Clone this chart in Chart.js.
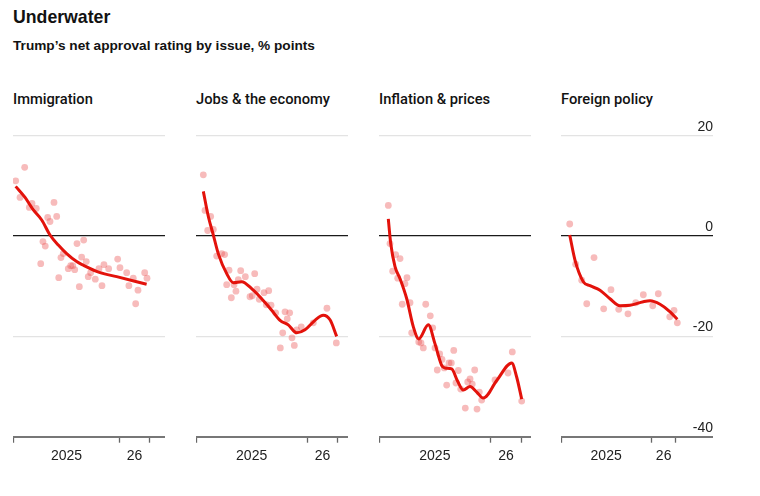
<!DOCTYPE html>
<html>
<head>
<meta charset="utf-8">
<script src="https://cdn.jsdelivr.net/npm/chart.js@4.4.1/dist/chart.umd.min.js"></script>
<style>
  body { margin: 0; background: #fff; width: 760px; height: 496px; position: relative; overflow: hidden;
         font-family: "Liberation Sans", Arial, sans-serif; color: #121212; }
  .t { position: absolute; white-space: nowrap; line-height: 1; }
  .panel { position: absolute; top: 110px; width: 152px; height: 360px; }
</style>
</head>
<body>
<div class="t" style="left:13px;top:9px;font-size:17.7px;font-weight:bold">Underwater</div>
<div class="t" style="left:13px;top:39px;font-size:13.65px;font-weight:bold">Trump’s net approval rating by issue, % points</div>
<div class="t" style="left:13px;top:92px;font-size:14.7px;font-family:Roboto;font-weight:500">Immigration</div>
<div class="t" style="left:196px;top:92px;font-size:14.7px;font-family:Roboto;font-weight:500">Jobs &amp; the economy</div>
<div class="t" style="left:379px;top:92px;font-size:14.7px;font-family:Roboto;font-weight:500">Inflation &amp; prices</div>
<div class="t" style="left:561px;top:92px;font-size:14.7px;font-family:Roboto;font-weight:500">Foreign policy</div>

<div class="panel" style="left:13px"><canvas id="immigration"></canvas></div>
<div class="panel" style="left:196px"><canvas id="jobs"></canvas></div>
<div class="panel" style="left:379px"><canvas id="inflation"></canvas></div>
<div class="panel" style="left:561px"><canvas id="foreign"></canvas></div>

<script>
// x values are months since Jan 1st 2025
const xTicks = [0, 6, 12, 13.64, 15.28];
const xTickLabels = { 6: '2025', 13.64: '26' };
const yTicks = [-40, -20, 0, 20];

// Immigration
const immigrationMonths = [0.3, 1.31, 0.79, 1.83, 2.13, 2.61, 3.89, 4.15, 4.6, 4.9, 3.36, 3.62, 3.11, 5.13, 5.38, 5.64,
  6.2, 6.47, 6.7, 6.92, 7.18, 7.44, 7.7, 7.93, 8.22, 8.44, 8.71, 9.23, 9.64, 9.98, 10.2, 10.73, 11.74, 12.0,
  12.75, 13.0, 13.49, 13.76, 14.02, 14.77, 15.03];
const immigrationPolls = [11, 13.7, 7.7, 5.7, 6.5, 5.5, 3.7, 2.9, 6.7, 3.9, -1.1, -2, -5.5, -8.3, -4.3, -3.5,
  -6.5, -5.9, -5.9, -6.7, -1.5, -10.1, -4.2, -0.8, -5.1, -8.1, -7.3, -8.6, -6.5, -9.9, -5.7, -6.5, -4.6, -6.3,
  -7.3, -9.9, -8.4, -13.5, -10.8, -7.3, -8.4];
const immigrationTrendMonths = [0.3, 1.35, 2.28, 3.22, 4.15, 5.08, 6.02, 7.14, 7.88, 9.76, 11.63, 14.99];
const immigrationTrend = [9.9, 7.7, 5.2, 3.2, 0.2, -1.8, -3.5, -5.1, -5.8, -7.3, -8.1, -9.6];

// Jobs & the economy
const jobsMonths = [0.79, 0.97, 1.58, 1.26, 1.87, 2.23, 2.77, 3.09, 3.56, 3.31, 3.81, 4.1, 4.31, 4.56, 4.82, 5.32,
  5.82, 6.07, 6.33, 6.58, 6.82, 7.33, 7.58, 7.84, 8.09, 8.59, 9.09, 9.35, 9.6, 9.84, 10.1, 10.35, 10.6, 10.86,
  11.35, 12.65, 14.12, 15.13];
const jobsPolls = [12.2, 5.1, 3.9, 1.1, 1.3, -4, -3.5, -3.7, -6.8, -9.7, -12.3, -9.7, -11, -8.7, -6.9, -8.1,
  -12.1, -11.9, -7.5, -10.6, -12.6, -11.3, -13.7, -10.9, -13.8, -15.3, -22.3, -19.3, -15.1, -16.5, -15.3, -20.3,
  -21.8, -18.7, -18.1, -17.3, -14.4, -21.3];
const jobsTrendMonths = [0.79, 1.33, 1.87, 2.4, 3.31, 4.02, 4.93, 6.0, 7.08, 8.16, 9.06, 9.95, 10.86, 11.75,
  12.83, 13.72, 14.45, 15.17];
const jobsTrend = [8.9, 3.9, 0.2, -3.5, -7.5, -9.3, -9.1, -10.5, -12.5, -14.8, -16.8, -17.7, -19.3, -18.7,
  -16.8, -15.8, -16.7, -20];

// Inflation & prices
const inflationMonths = [1.0, 1.18, 1.79, 2.26, 1.47, 2.01, 3.01, 2.79, 2.5, 3.33, 5.02, 5.51, 5.77, 3.51, 4.27,
  4.51, 4.76, 6.02, 6.52, 6.77, 6.26, 7.02, 7.52, 7.77, 8.03, 8.27, 7.27, 8.52, 8.78, 9.27, 9.53, 9.78, 10.02,
  10.28, 10.53, 10.78, 11.03, 12.46, 13.86, 14.32, 15.33];
const inflationPolls = [6.1, -1.5, -3.7, -4.5, -7, -8.4, -8.3, -9.5, -13.6, -13.3, -13.6, -15.9, -18.3, -19.3,
  -21.1, -21.3, -22.3, -22.3, -23.5, -24.6, -26.7, -26.3, -25.3, -25.3, -22.8, -29.3, -29.7, -26.8, -30.5,
  -34.3, -29.1, -28.5, -29.5, -26.7, -34.5, -31.1, -32.7, -28.7, -27.3, -23.1, -32.9];
const inflationTrendMonths = [1.0, 1.26, 1.72, 2.26, 2.98, 3.69, 4.27, 5.3, 6.02, 6.74, 7.09, 7.81, 8.41, 9.06,
  9.78, 10.5, 11.2, 12.65, 14.26, 14.79, 15.33];
const inflationTrend = [3.4, -1.5, -6.1, -8.5, -12.5, -18.1, -20.5, -17.7, -21.5, -25.8, -26.3, -26.5, -28.8,
  -30.7, -30.0, -31.1, -32.3, -28.8, -25.3, -28.1, -32.5];

// Foreign policy
const foreignMonths = [1.16, 1.95, 2.75, 3.42, 4.39, 5.67, 6.64, 7.67, 8.9, 9.93, 10.94, 12.19, 12.93, 14.45,
  15.02, 15.46];
const foreignPolls = [2.4, -5.6, -8.8, -13.5, -4.3, -14.5, -10.7, -14.6, -15.5, -13.3, -11.7, -13.9, -11.5,
  -16.1, -14.8, -17.3];
const foreignTrendMonths = [1.16, 1.86, 2.96, 3.85, 5.18, 6.51, 7.84, 9.17, 10.94, 11.83, 13.16, 14.5, 15.46];
const foreignTrend = [0.2, -4.8, -9.1, -9.9, -10.8, -12.5, -13.9, -13.8, -13.1, -12.9, -13.6, -15.1, -16.6];

const RED = '#e3120b';
const PINK = 'rgba(235, 85, 85, 0.4)';

function pairs(xs, ys) {
  return xs.map((x, i) => ({ x: x, y: ys[i] }));
}

function panel(id, months, polls, trendMonths, trend, xMax, showYLabels) {
  new Chart(document.getElementById(id), {
    type: 'scatter',
    data: {
      datasets: [
        {
          type: 'line',
          data: pairs(trendMonths, trend),
          borderColor: RED,
          borderWidth: 3,
          pointRadius: 0,
          cubicInterpolationMode: 'monotone',
          fill: false,
          order: 0
        },
        {
          data: pairs(months, polls),
          backgroundColor: PINK,
          borderWidth: 0,
          pointRadius: 3.4,
          order: 1
        }
      ]
    },
    options: {
      responsive: true,
      maintainAspectRatio: false,
      animation: false,
      layout: { autoPadding: false, padding: { top: 25.7, left: 0, right: 0, bottom: 0 } },
      plugins: { legend: { display: false }, tooltip: { enabled: false } },
      scales: {
        x: {
          type: 'linear',
          min: 0,
          max: xMax,
          afterBuildTicks: s => { s.ticks = xTicks.map(v => ({ value: v })); },
          afterFit: s => { s.height = 33.3; },
          border: { display: true, color: '#777', width: 2 },
          grid: {
            drawOnChartArea: false,
            drawTicks: true,
            tickLength: 6,
            tickWidth: 1.3,
            tickColor: c => (xTickLabels[c.tick.value] ? 'rgba(0,0,0,0)' : '#666')
          },
          ticks: {
            autoSkip: false,
            maxRotation: 0,
            padding: 0,
            font: { family: 'Liberation Sans', size: 14, lineHeight: 1.86 },
            color: '#222',
            callback: v => xTickLabels[v] || ''
          }
        },
        y: {
          position: 'right',
          min: -40,
          max: 20,
          afterBuildTicks: s => { s.ticks = yTicks.map(v => ({ value: v })); },
          afterFit: s => { s.width = 0; },
          border: { display: false },
          grid: {
            drawTicks: false,
            color: c => (c.tick.value === 0 ? '#1a1a1a' : '#e3e3e3'),
            lineWidth: c => (c.tick.value === 0 ? 1.3 : 1.2)
          },
          ticks: {
            display: showYLabels,
            mirror: true,
            padding: 0,
            labelOffset: -9,
            font: { family: 'Liberation Sans', size: 14 },
            color: '#222',
            callback: v => String(v)
          }
        }
      }
    }
  });
}

panel('immigration', immigrationMonths, immigrationPolls, immigrationTrendMonths, immigrationTrend, 17.05, false);
panel('jobs', jobsMonths, jobsPolls, jobsTrendMonths, jobsTrend, 16.39, false);
panel('inflation', inflationMonths, inflationPolls, inflationTrendMonths, inflationTrend, 16.33, false);
panel('foreign', foreignMonths, foreignPolls, foreignTrendMonths, foreignTrend, 20.2, true);
</script>
</body>
</html>
